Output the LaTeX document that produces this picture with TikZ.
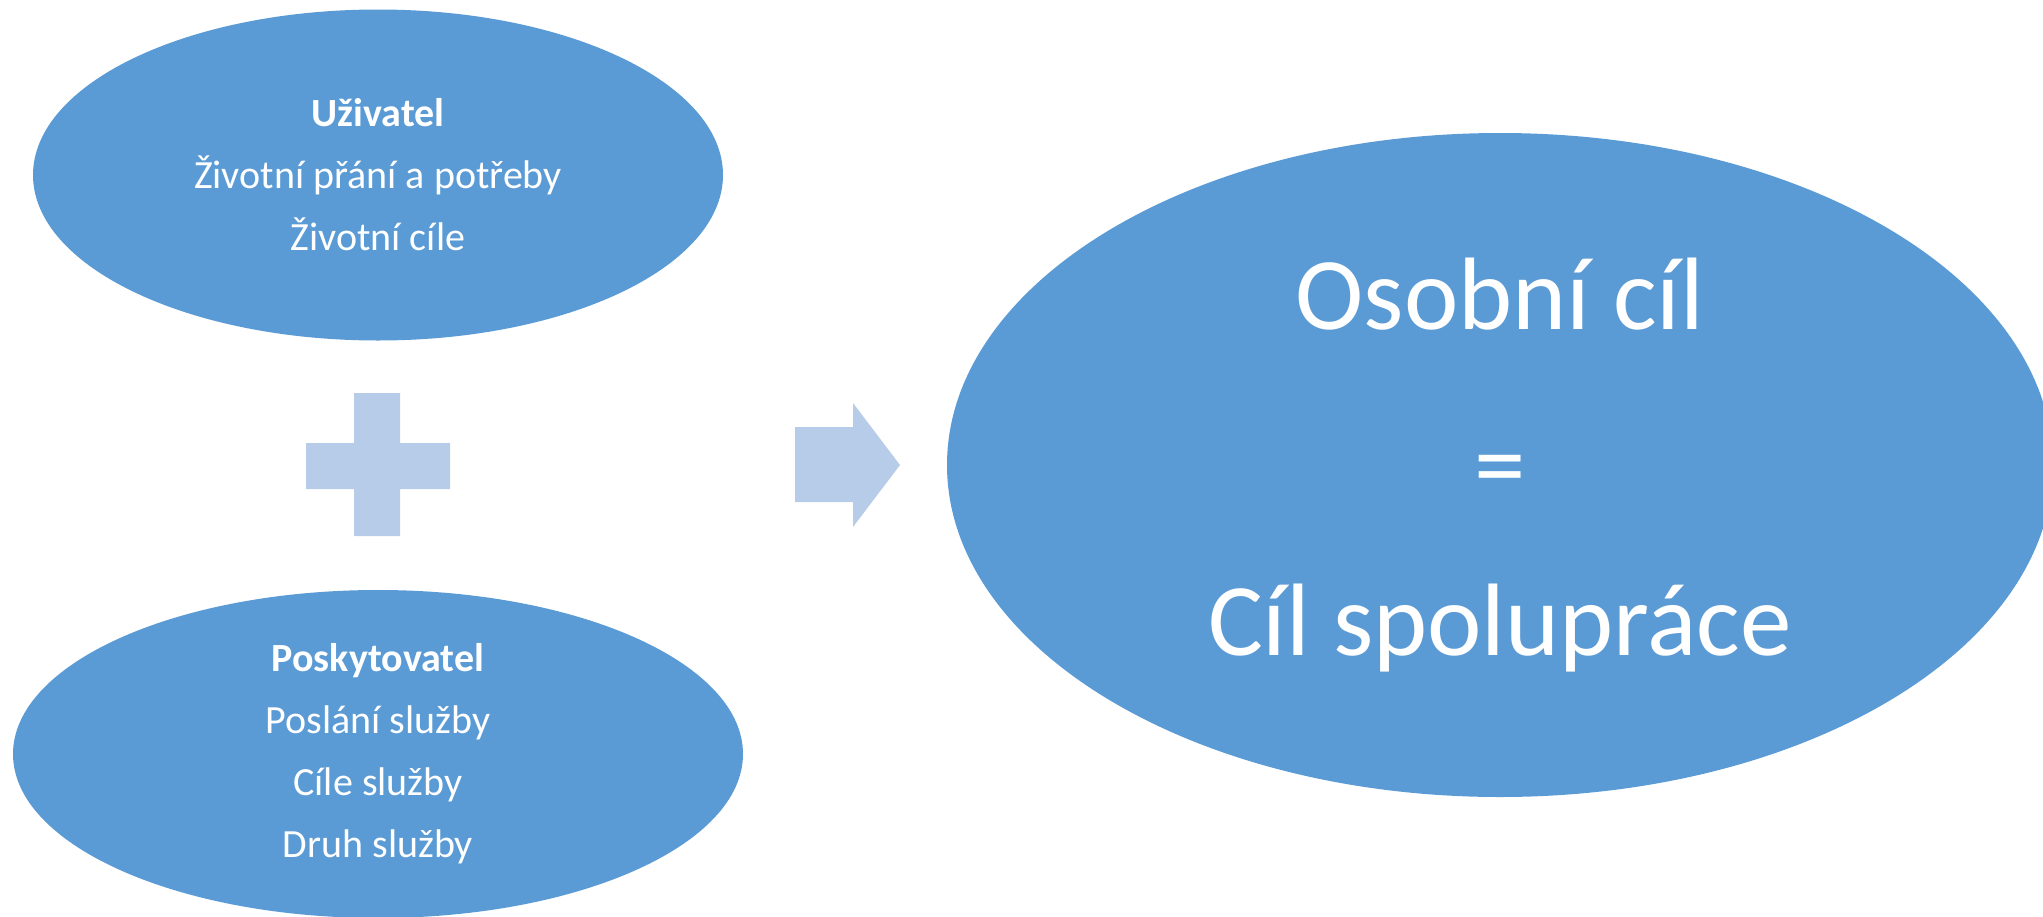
\documentclass[tikz,border=0pt]{standalone}
\usepackage{fontspec}
\setmainfont{Carlito}
\usetikzlibrary{shapes.geometric}
\definecolor{ellblue}{HTML}{5B9BD5}
\definecolor{lightblue}{HTML}{B7CCE8}
\begin{document}
\begin{tikzpicture}[x=1pt,y=-1pt,
  blob/.style={ellipse, fill=ellblue, draw=none, inner sep=0pt, text=white, align=center},
  smalltext/.style={font=\fontsize{40}{62}\selectfont},
  bigtext/.style={font=\fontsize{103}{163}\selectfont},
  shapefill/.style={fill=lightblue, draw=none}]
\useasboundingbox (0,0) rectangle (2043,916);
\clip (0,0) rectangle (2043,916);
\node[blob, smalltext, minimum width=690pt, minimum height=331pt] (user) at (378,175)
  {\textbf{Uživatel}\\Životní přání a potřeby\\Životní cíle};
\node[blob, smalltext, minimum width=730pt, minimum height=328pt] (provider) at (378,754)
  {\textbf{Poskytovatel}\\Poslání služby\\Cíle služby\\Druh služby};
\node[blob, bigtext, minimum width=1106pt, minimum height=664pt] (goal) at (1500,465)
  {Osobní cíl\\\raisebox{-7pt}{=}\\Cíl spolupráce};
\fill[shapefill] (354,393) -- (400,393) -- (400,443) -- (450,443) -- (450,489) -- (400,489)
  -- (400,536) -- (354,536) -- (354,489) -- (306,489) -- (306,443) -- (354,443) -- cycle;
\fill[shapefill] (795,427) -- (853,427) -- (853,403) -- (900,465) -- (853,527) -- (853,502)
  -- (795,502) -- cycle;
\end{tikzpicture}
\end{document}
